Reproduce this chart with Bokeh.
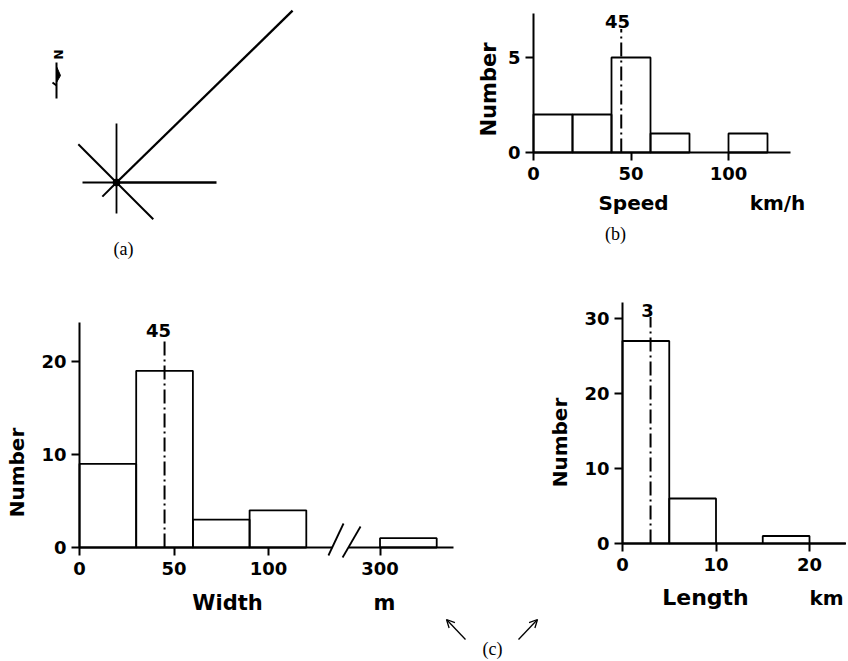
import math
from bokeh.plotting import figure
from bokeh.models import Range1d, FixedTicker, Label, Arrow, OpenHead, LinearAxis
from bokeh.embed import file_html
from bokeh.resources import INLINE

# ---------------- data ----------------
# (a) sketch of the event: rays from the centre (angle deg ccw from east, length in px)
star_center = (116, 182)
ray_angles = [90, 270, 0, 180, 135, 315, 225, 44.3]
ray_lengths = [59, 31, 100, 34, 54, 52, 20, 246]
ray_widths = [1.8, 1.8, 2.6, 1.8, 2.0, 2.0, 2.0, 2.3]

# (b) speed histogram
speed_left = [0, 20, 40, 60, 100]
speed_right = [20, 40, 60, 80, 120]
speed_count = [2, 2, 5, 1, 1]
speed_mean = 45
speed_xticks = [0, 50, 100]
speed_yticks = [0, 5]

# (c) width histogram (broken axis between 120 and 300)
width_left = [0, 30, 60, 90, 300]
width_right = [30, 60, 90, 120, 330]
width_count = [9, 19, 3, 4, 1]
width_mean = 45
width_xticks_low = [0, 50, 100]
width_xticks_high = [300]
width_yticks = [0, 10, 20]
WIDTH_SHIFT = 141  # values >= 300 are drawn shifted left by this amount

# (c) length histogram
length_left = [0, 5, 10, 15, 20]
length_right = [5, 10, 15, 20, 25]
length_count = [27, 6, 0, 1, 0]
length_mean = 3
length_xticks = [0, 10, 20]
length_yticks = [0, 10, 20, 30]

FONT = "DejaVu Sans"
SERIF = "Liberation Serif"
W, H = 846, 659


def wpos(v):
    return v if v < 200 else v - WIDTH_SHIFT


p = figure(width=W, height=H, x_range=Range1d(0, W), y_range=Range1d(H, 0),
           x_axis_type=None, y_axis_type=None, toolbar_location=None,
           output_backend="svg", min_border=0, title=None)
p.xgrid.visible = False
p.ygrid.visible = False
p.outline_line_color = None


def add_panel(name, x0px, sx, y0px, sy):
    """Register ranges so that data value 0 sits at pixel x0px / y0px."""
    p.extra_x_ranges[name] = Range1d(-x0px / sx, (W - x0px) / sx)
    p.extra_y_ranges[name] = Range1d((y0px - H) / sy, y0px / sy)


def make_axis(name, side, ticks, bounds, overrides=None):
    ax = LinearAxis(x_range_name=name, y_range_name=name, fixed_location=0,
                    bounds=bounds, ticker=FixedTicker(ticks=ticks))
    ax.axis_line_width = 2
    ax.axis_line_color = "black"
    ax.major_tick_line_width = 2
    ax.major_tick_line_color = "black"
    ax.major_tick_in = 0
    ax.major_tick_out = 8
    ax.minor_tick_line_color = None
    ax.major_label_text_font = FONT
    ax.major_label_text_font_style = "bold"
    ax.major_label_text_font_size = "18px"
    ax.major_label_text_color = "black"
    ax.major_label_standoff = 6 if side == "below" else 5
    if overrides:
        ax.major_label_overrides = overrides
    p.add_layout(ax, side)


def label(x, y, text, size, angle=0.0, font=FONT, style="bold"):
    p.add_layout(Label(x=x, y=y, text=text, text_font=font, text_font_style=style,
                       text_font_size=size, text_align="center", text_baseline="middle",
                       angle=angle, text_color="black"))


def dashdot(name, x, top):
    p.line([x, x], [0, top], x_range_name=name, y_range_name=name,
           line_color="black", line_width=2, line_dash="14 4 2 4")


# ---------------- (a) sketch ----------------
cx, cy = star_center
x1 = [cx + L * math.cos(math.radians(a)) for a, L in zip(ray_angles, ray_lengths)]
y1 = [cy - L * math.sin(math.radians(a)) for a, L in zip(ray_angles, ray_lengths)]
p.segment(x0=[cx] * len(x1), y0=[cy] * len(y1), x1=x1, y1=y1,
          line_color="black", line_width=ray_widths)
p.scatter([cx], [cy], size=7, color="black")
# north arrow
p.segment(x0=[56, 56], y0=[62, 85], x1=[56, 52], y1=[98, 82], line_color="black", line_width=2)
p.patch([56, 60, 56], [66, 75, 82], color="black")
label(57, 54, "N", "12px", angle=-math.pi / 2)
label(123, 248, "(a)", "18px", font=SERIF, style="normal")

# ---------------- (b) speed ----------------
add_panel("speed", 533, 1.95, 152, 19.0)
make_axis("speed", "below", speed_xticks, (0, 131.8))
make_axis("speed", "left", speed_yticks, (0, 7.32))
p.quad(left=speed_left, right=speed_right, top=speed_count, bottom=0,
       x_range_name="speed", y_range_name="speed",
       fill_color=None, line_color="black", line_width=1.8)
dashdot("speed", speed_mean, 6.5)
label(617, 21, "45", "18px")
label(488, 89, "Number", "21px", angle=math.pi / 2)
label(633, 202, "Speed", "20px")
label(777, 202, "km/h", "20px")
label(615, 233, "(b)", "18px", font=SERIF, style="normal")

# ---------------- (c) width ----------------
add_panel("width", 79, 1.89, 547, 9.3)
make_axis("width", "below", width_xticks_low, (0, 133.7))
make_axis("width", "below", [wpos(t) for t in width_xticks_high], (142.3, 198),
          overrides={wpos(t): str(t) for t in width_xticks_high})
make_axis("width", "left", width_yticks, (0, 24.2))
p.quad(left=[wpos(v) for v in width_left], right=[wpos(v) for v in width_right],
       top=width_count, bottom=0, x_range_name="width", y_range_name="width",
       fill_color=None, line_color="black", line_width=1.8)
dashdot("width", width_mean, 22.5)
# axis break marks
p.segment(x0=[131.7, 139.2], y0=[-0.86, -1.08], x1=[139.7, 148.7], y1=[2.58, 2.26],
          x_range_name="width", y_range_name="width", line_color="black", line_width=1.8)
label(158, 330, "45", "18px")
label(16, 472, "Number", "20px", angle=math.pi / 2)
label(227, 602, "Width", "21px")
label(384, 602, "m", "21px")

# ---------------- (c) length ----------------
add_panel("length", 622, 9.35, 543, 7.5)
make_axis("length", "below", length_xticks, (0, 23.9))
make_axis("length", "left", length_yticks, (0, 32.1))
p.quad(left=length_left, right=length_right, top=length_count, bottom=0,
       x_range_name="length", y_range_name="length",
       fill_color=None, line_color="black", line_width=1.8)
dashdot("length", length_mean, 30.2)
label(647, 310, "3", "18px")
label(559, 442, "Number", "20px", angle=math.pi / 2)
label(705, 597, "Length", "22px")
label(826, 597, "km", "20px")

# ---------------- (c) caption ----------------
label(492, 648, "(c)", "18px", font=SERIF, style="normal")
p.add_layout(Arrow(end=OpenHead(size=8, line_width=1.3, line_color="black"),
                   x_start=465, y_start=639, x_end=446, y_end=619,
                   line_color="black", line_width=1.3))
p.add_layout(Arrow(end=OpenHead(size=8, line_width=1.3, line_color="black"),
                   x_start=518, y_start=639, x_end=537, y_end=619,
                   line_color="black", line_width=1.3))

open("out.html", "w").write(file_html(p, INLINE))
